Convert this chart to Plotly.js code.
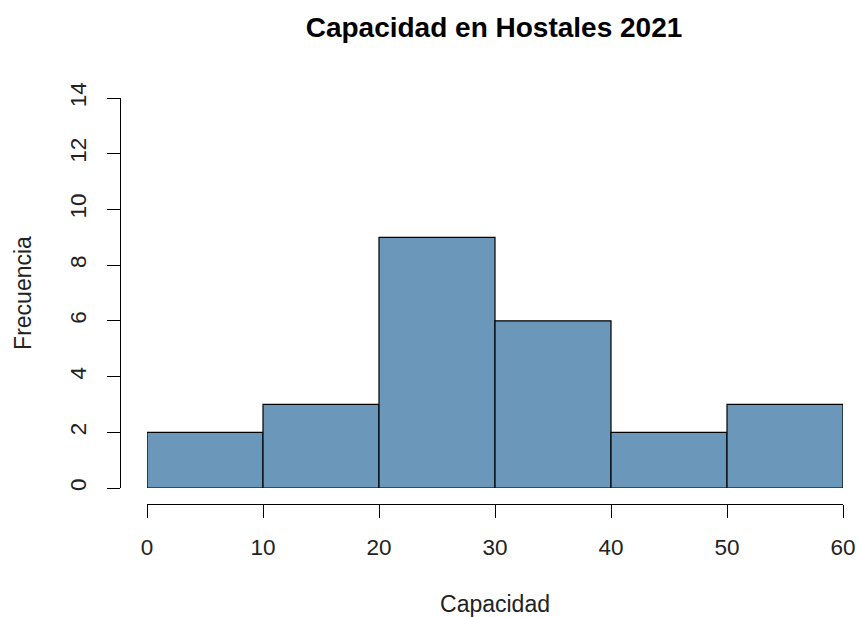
<!DOCTYPE html>
<html>
<head>
<meta charset="utf-8">
<script src="https://cdn.plot.ly/plotly-3.0.1.min.js"></script>
<style>html,body{margin:0;padding:0;background:#fff;}#chart{width:858px;height:617px;}</style>
</head>
<body>
<div id="chart"></div>
<script>
const binCenters = [5, 15, 25, 35, 45, 55];
const frequencies = [2, 3, 9, 6, 2, 3];
const binWidth = 10;
const xTicks = [0, 10, 20, 30, 40, 50, 60];
const yTicks = [0, 2, 4, 6, 8, 10, 12, 14];

const font = 'Liberation Sans, Arial, sans-serif';
const W = 858, H = 617;
const mL = 120, mR = 15, mT = 98, mB = 113;
const plotW = W - mL - mR, plotH = H - mT - mB;
const xStart = (147 - mL) / plotW;
const yStart = (504 - 488) / plotH;

const trace = {
  type: 'bar',
  x: binCenters,
  y: frequencies,
  width: binCenters.map(() => binWidth),
  marker: {color: '#6B97BA', line: {color: '#000000', width: 1.2}},
  hoverinfo: 'x+y'
};

const layout = {
  width: W, height: H,
  margin: {l: mL, r: mR, t: mT, b: mB, pad: 0},
  paper_bgcolor: '#ffffff',
  plot_bgcolor: '#ffffff',
  showlegend: false,
  bargap: 0,
  font: {family: font, color: '#000'},
  title: {
    text: '<b>Capacidad en Hostales 2021</b>',
    font: {family: font, size: 28, color: '#000'},
    xref: 'container', x: 494 / W, xanchor: 'center',
    yref: 'container', y: 1 - 27 / H, yanchor: 'middle'
  },
  xaxis: {
    domain: [xStart, 1],
    range: [0, 60],
    anchor: 'free', position: 0,
    showline: true, linecolor: '#000', linewidth: 1,
    ticks: 'outside', ticklen: 13, tickcolor: '#000', tickwidth: 1,
    ticklabelstandoff: 10,
    tickvals: xTicks, ticktext: xTicks.map(String),
    tickfont: {family: font, size: 22.5, color: '#222'},
    showgrid: false, zeroline: false,
    title: {text: 'Capacidad', font: {family: font, size: 23, color: '#222'}, standoff: 36}
  },
  yaxis: {
    domain: [yStart, 1],
    range: [0, 14],
    anchor: 'free', position: 0,
    showline: true, linecolor: '#000', linewidth: 1,
    ticks: 'outside', ticklen: 13, tickcolor: '#000', tickwidth: 1,
    ticklabelstandoff: 12,
    tickvals: yTicks, ticktext: yTicks.map(String),
    tickangle: -90,
    tickfont: {family: font, size: 22.5, color: '#222'},
    showgrid: false, zeroline: false,
    title: {text: 'Frecuencia', font: {family: font, size: 23, color: '#222'}, standoff: 26}
  }
};

Plotly.newPlot('chart', [trace], layout, {displayModeBar: false, staticPlot: true});
</script>
</body>
</html>
